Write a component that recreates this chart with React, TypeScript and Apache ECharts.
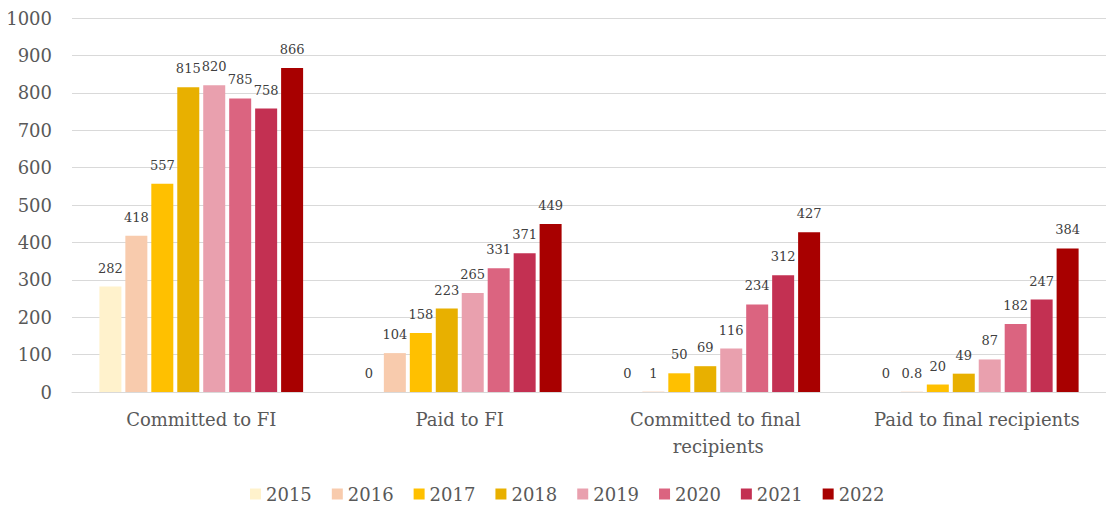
import React, { useEffect, useRef } from "react";
import * as echarts from "echarts";

const categories = ["Committed to FI", "Paid to FI", "Committed to final recipients", "Paid to final recipients"];
const years = ["2015", "2016", "2017", "2018", "2019", "2020", "2021", "2022"];
const v2015 = [282, 0, 0, 0];
const v2016 = [418, 104, 1, 0.8];
const v2017 = [557, 158, 50, 20];
const v2018 = [815, 223, 69, 49];
const v2019 = [820, 265, 116, 87];
const v2020 = [785, 331, 234, 182];
const v2021 = [758, 371, 312, 247];
const v2022 = [866, 449, 427, 384];
const seriesValues = [v2015, v2016, v2017, v2018, v2019, v2020, v2021, v2022];
const colors = ["#FFF2CC", "#F8CBAD", "#FFC000", "#E8B000", "#E9A0AE", "#DB6480", "#C33052", "#A80000"];
const yTicks = [0, 100, 200, 300, 400, 500, 600, 700, 800, 900, 1000];

export default function App() {
  const ref = useRef<HTMLDivElement>(null);
  useEffect(() => {
    if (!ref.current) return;
    const chart = echarts.init(ref.current, null, { renderer: "svg" });
    const font = "DejaVu Serif";
    chart.setOption({
      animation: false,
      textStyle: { fontFamily: font },
      grid: { left: 72, top: 18, width: 1040, bottom: 114, containLabel: false },
      legend: {
        left: 250,
        top: 485,
        padding: 0,
        itemWidth: 11,
        itemHeight: 11,
        itemGap: 20,
        icon: "rect",
        textStyle: { fontFamily: font, fontSize: 18, color: "#595959" },
        data: years,
      },
      xAxis: {
        type: "category",
        data: categories,
        axisLine: { lineStyle: { color: "#D9D9D9" } },
        axisTick: { show: false },
        axisLabel: {
          interval: 0,
          fontFamily: font,
          fontSize: 18,
          color: "#595959",
          margin: 14,
          width: 220,
          overflow: "break",
          lineHeight: 27,
        },
      },
      yAxis: {
        type: "value",
        min: yTicks[0],
        max: yTicks[yTicks.length - 1],
        interval: 100,
        axisLine: { show: false },
        axisTick: { show: false },
        splitLine: { lineStyle: { color: "#D9D9D9", width: 1 } },
        axisLabel: {
          fontFamily: font,
          fontSize: 18,
          color: "#595959",
          margin: 20,
          formatter: (v: number) => String(v),
        },
      },
      series: years.map((y, i) => ({
        name: y,
        type: "bar",
        data: seriesValues[i],
        barWidth: 22,
        barGap: "18%",
        itemStyle: { color: colors[i] },
        label: {
          show: true,
          position: "top",
          distance: 12,
          fontFamily: font,
          fontSize: 13,
          color: "#404040",
          formatter: (p: any) => String(p.value),
        },
      })),
    });
    return () => chart.dispose();
  }, []);
  return (
    <div
      ref={ref}
      style={{ position: "fixed", left: 0, top: 0, width: 1106, height: 506, background: "#fff" }}
    />
  );
}
